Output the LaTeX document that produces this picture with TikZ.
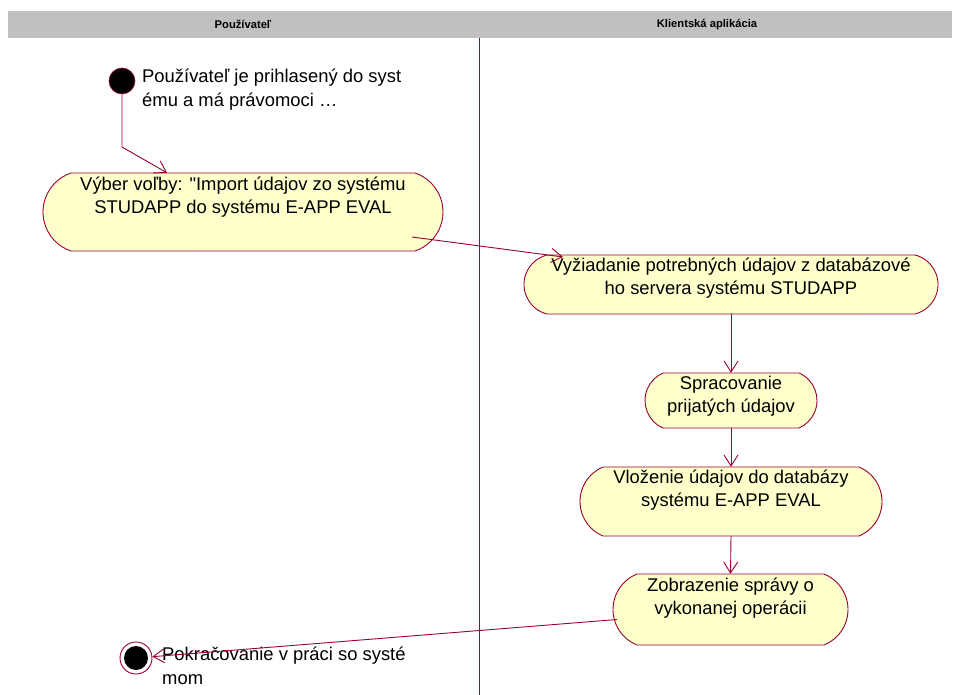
\documentclass[tikz,border=0pt]{standalone}
\usepackage{fontspec}
\setmainfont{Liberation Sans}[Ligatures=TeXOff]
\usetikzlibrary{arrows.meta,calc}

\definecolor{umlline}{RGB}{153,0,51}
\definecolor{actfill}{RGB}{255,255,204}
\definecolor{lanegray}{RGB}{192,192,192}

\tikzset{
  actshape/.style={draw=umlline,fill=actfill,line width=0.9pt},
  acttext/.style={align=center,inner sep=0pt,font=\fontsize{18.4}{23}\selectfont},
  notetext/.style={align=left,anchor=west,inner sep=0pt,font=\fontsize{18.4}{24}\selectfont},
  lanetitle/.style={inner sep=0pt,font=\fontsize{11.2}{13}\selectfont\bfseries},
  flow/.style={draw=umlline,line width=0.9pt,-{Straight Barb[length=11pt,width=14pt,line width=0.9pt]}},
  startstate/.style={circle,fill=black,draw=umlline,line width=0.6pt,minimum size=26pt,inner sep=0pt},
}

% activity box: name, left, right, top, bottom, cap width, text centre y, text
\newcommand\actbox[8]{%
  \pgfmathsetmacro\actW{#3-#2}%
  \pgfmathsetmacro\actH{#5-#4}%
  \pgfmathsetmacro\actR{(#6*#6+\actH*\actH/4)/(2*#6)}%
  \pgfmathsetmacro\actT{asin(\actH/(2*\actR))}%
  \node[inner sep=0pt,minimum width=\actW pt,minimum height=\actH pt] (#1) at ({(#2+#3)/2},{-(#4+#5)/2}) {};
  \draw[actshape] (#2+#6,-#4) -- (#3-#6,-#4)
     arc[start angle=\actT,end angle=-\actT,radius=\actR pt]
     -- (#2+#6,-#5)
     arc[start angle=180+\actT,end angle=180-\actT,radius=\actR pt] -- cycle;
  \node[acttext] (#1txt) at ({(#2+#3)/2},-#7) {#8};
}

\begin{document}
\begin{tikzpicture}[x=1pt,y=1pt]
\useasboundingbox (0,0) rectangle (955,-695);

% swimlane header and divider
\fill[lanegray] (8,-11) rectangle (952,-38);
\node[lanetitle] (lane1) at (243,-24.5) {Používateľ};
\node[lanetitle] (lane2) at (707,-24.5) {Klientská aplikácia};
\draw[umlline,line width=0.8pt] (479,-38) -- (479,-695);

% initial state
\node[startstate] (init) at (122,-81) {};
\node[notetext] (inittxt) at (142,-90) {Používateľ je prihlasený do syst\\ému a má právomoci …};

% activities
\actbox{act1}{43}{443}{173}{251}{28}{197}{Výber voľby: "Import údajov zo systému\\STUDAPP do systému E-APP EVAL}
\actbox{act2}{524}{938}{255}{314}{23}{278}{Vyžiadanie potrebných údajov z databázové\\ho servera systému STUDAPP}
\actbox{act3}{645}{817}{373}{428}{18}{396}{Spracovanie\\prijatých údajov}
\actbox{act4}{580}{882}{467}{536}{23}{490}{Vloženie údajov do databázy\\systému E-APP EVAL}
\actbox{act5}{613}{848}{574}{645}{24}{598.5}{Zobrazenie správy o\\vykonanej operácii}

% final state
\node[circle,draw=umlline,fill=white,line width=0.9pt,minimum size=32pt,inner sep=0pt] (fin) at (136,-658) {};
\node[circle,fill=black,minimum size=24pt,inner sep=0pt] (fincore) at (fin.center) {};
\node[notetext] (fintxt) at (162,-666) {Pokračovanie v práci so systé\\mom};

% transitions
\coordinate (bend1) at (122,-147);
\draw[flow] (init.south) -- (bend1) -- ($(act1.north)+(-76,0)$);
\draw[flow] ($(act1.center)+(169,-25)$) -- ($(act2.center)+(-168,27.5)$);
\draw[flow] (act2.south) -- (act3.north);
\draw[flow] (act3.south) -- (act4.north);
\draw[flow] (act4.south) -- (act5.north);
\draw[flow] ($(act5.west)+(4,-10)$) -- (fin);
\end{tikzpicture}
\end{document}
